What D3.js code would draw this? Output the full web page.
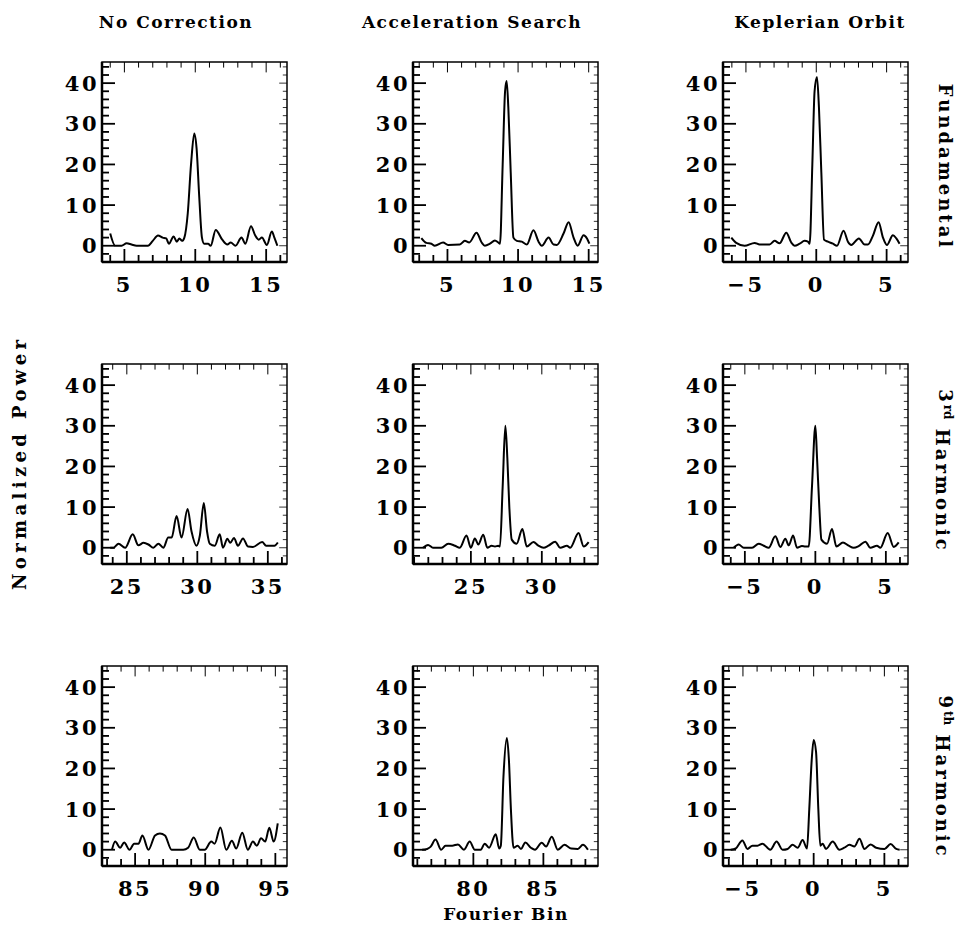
<!DOCTYPE html>
<html>
<head>
<meta charset="utf-8">
<script src="https://cdn.jsdelivr.net/npm/d3@7"></script>
<style>
  body { margin: 0; background: #fff; }
  text { font-family: "DejaVu Serif", serif; font-weight: bold; fill: #000; }
</style>
</head>
<body>
<div id="chart"></div>
<script>
// column titles and row labels
const colTitles = ["No Correction", "Acceleration Search", "Keplerian Orbit"];
const rowNums = ["", "3", "9"];
const rowSups = ["", "rd", "th"];
const rowWords = ["Fundamental", "Harmonic", "Harmonic"];

// x ranges (Fourier bin) of each panel, row by row
const xRanges = [
  [3.42, 16.47], [2.56, 15.66], [-6.63, 6.52],
  [23.24, 36.36], [20.92, 33.96], [-6.55, 6.57],
  [82.64, 95.83], [75.69, 88.9], [-6.41, 6.67]
];
const yRange = [-4, 45.2];
const yTickValues = [0, 10, 20, 30, 40];

// power spectra, [bin, power]
const fundNoCorr = [[4.0,3.0],[4.35,0],[4.8,0],[5.16,0.6],[5.5,0.3],[5.86,0],[6.67,0],[7.0,1.2],[7.37,2.5],[7.7,2.0],[7.95,1.8],[8.14,0.5],[8.47,2.3],[8.7,1.0],[8.88,1.8],[9.07,1.2],[9.23,2.0],[9.47,8],[9.7,20],[9.93,27.6],[10.09,24],[10.28,12],[10.47,2],[10.63,0.5],[10.9,0.5],[11.09,0],[11.44,3.9],[11.9,1.5],[12.26,0.3],[12.5,0.8],[12.84,0],[13.26,2.0],[13.53,0.5],[13.93,4.8],[14.23,2.5],[14.47,1.5],[14.7,2.0],[15.05,0.2],[15.4,3.5],[15.58,2.0],[15.79,0]];
const fundAccel = [[3.15,1.9],[3.51,0.7],[3.86,0.5],[4.1,0],[4.69,0.8],[5.05,0.2],[5.88,0.3],[6.23,1.2],[6.54,0.8],[7.06,3.2],[7.42,0.8],[7.65,0],[8.01,0.5],[8.36,1.3],[8.6,0.8],[8.72,0.5],[8.91,20],[9.08,38],[9.19,40.5],[9.31,34],[9.48,18],[9.67,2],[9.91,1.2],[10.26,1.0],[10.62,0.3],[11.09,3.8],[11.45,1.0],[11.68,0],[12.16,2.0],[12.51,0.3],[12.75,0.2],[13.22,3.0],[13.58,5.8],[13.93,2.0],[14.22,0],[14.64,2.6],[14.88,1.8],[15.05,0.5]];
const fundKepler = [[-6.04,2.0],[-5.69,0.7],[-5.1,0],[-4.38,0.7],[-4.03,0.3],[-3.32,0.3],[-2.96,1.2],[-2.61,0.6],[-2.13,3.2],[-1.78,0.8],[-1.54,0],[-1.18,0.5],[-0.83,1.2],[-0.59,1.0],[-0.47,0.5],[-0.28,20],[-0.12,38],[0.05,41.5],[0.19,34],[0.36,18],[0.55,1.5],[0.83,1.0],[1.18,0.5],[1.47,0],[1.94,3.7],[2.25,1.0],[2.49,0.2],[3.03,1.8],[3.44,0.3],[3.67,0.3],[4.03,2.5],[4.43,5.8],[4.74,2.0],[5.02,0.2],[5.45,2.6],[5.69,1.8],[5.92,0.5]];

const h3NoCorr = [[23.82,0],[24.06,0],[24.41,1.0],[24.88,0],[25.42,3.3],[25.82,0.6],[26.18,1.2],[26.53,0.8],[26.88,0],[27.24,1.0],[27.59,0],[27.94,2.5],[28.18,2.5],[28.53,7.8],[28.88,2.5],[29.31,9.5],[29.59,4],[29.94,0.5],[30.18,3],[30.46,11],[30.69,4],[30.88,1.0],[31.24,0.5],[31.59,3.3],[31.82,0],[32.13,2.2],[32.34,1.2],[32.6,2.4],[32.88,0.5],[33.24,2.3],[33.59,0.3],[33.94,0.2],[34.6,1.4],[34.88,0.5],[35.47,0.5],[35.71,1.3]];
const h3Accel = [[21.63,0],[21.98,0.7],[22.33,0],[22.92,0],[23.4,1.0],[23.87,0.5],[24.22,0],[24.69,3.0],[25.0,0],[25.28,2.3],[25.52,0.8],[25.87,3.2],[26.16,0],[26.46,0.5],[26.7,0.3],[26.93,0.5],[27.05,0.3],[27.24,15],[27.43,30],[27.57,22],[27.71,10],[27.88,2],[28.23,1.0],[28.63,4.6],[28.94,0.3],[29.41,1.4],[29.76,0.5],[30.12,0],[30.47,0.5],[30.94,1.5],[31.3,0],[31.77,0.5],[32.0,0],[32.59,3.6],[32.95,0.3],[33.3,1.4]];
const h3Kepler = [[-5.79,0],[-5.44,0.8],[-5.08,0],[-4.49,0],[-4.02,1.0],[-3.66,0.5],[-3.31,0],[-2.84,2.8],[-2.48,0.2],[-2.13,2.2],[-1.89,0.6],[-1.58,3.0],[-1.3,0],[-0.95,0.4],[-0.71,0.3],[-0.47,0.3],[-0.24,15],[0,30],[0.12,22],[0.28,10],[0.43,2],[0.83,1.0],[1.18,4.6],[1.49,0.3],[1.96,1.3],[2.36,0.5],[2.72,0],[3.07,0.4],[3.55,1.5],[3.9,0],[4.37,0.5],[4.61,0],[5.13,3.6],[5.56,0.2],[5.91,1.3]];

const h9NoCorr = [[83.35,0],[83.58,2.0],[83.94,0.5],[84.22,1.8],[84.6,0],[84.93,1.5],[85.24,1.5],[85.52,3.5],[85.95,0],[86.42,3.5],[86.77,4.0],[87.13,3.5],[87.6,0],[88.43,0],[88.78,0.5],[89.18,3.0],[89.61,0],[89.96,0],[90.43,2.0],[90.67,1.5],[91.08,5.5],[91.5,0],[91.9,2.2],[92.21,0.3],[92.64,4.2],[93.04,0],[93.4,2.0],[93.68,1.0],[93.98,2.8],[94.27,2.0],[94.57,5.4],[94.88,2.0],[95.17,6.5]];
const h9Accel = [[76.34,0],[76.7,0.2],[76.94,0.7],[77.3,2.5],[77.7,0],[78.01,1.0],[78.49,1.0],[78.9,1.3],[79.33,0],[79.74,2.0],[80.1,0],[80.53,0],[80.81,1.5],[81.12,0.5],[81.6,3.8],[81.84,0.3],[81.96,1.0],[82.15,18],[82.39,27.5],[82.54,22],[82.68,10],[82.87,0.5],[83.16,1.0],[83.4,0.2],[83.71,1.8],[84.11,0.5],[84.4,0],[84.88,1.7],[85.19,0.8],[85.6,3.2],[86.03,0],[86.51,1.2],[86.99,0.3],[87.46,0.2],[87.82,1.2],[88.18,0]];
const h9Kepler = [[-5.86,0],[-5.51,0.3],[-5.04,2.3],[-4.68,0.2],[-4.33,1.0],[-3.97,1.0],[-3.62,1.5],[-3.07,0],[-2.62,2.0],[-2.2,0],[-1.84,0.2],[-1.49,1.2],[-1.13,0.5],[-0.78,2.4],[-0.47,0.3],[-0.31,10],[-0.14,22],[0,27],[0.17,24],[0.33,10],[0.47,1.0],[0.64,1.5],[0.87,0.2],[1.35,2.0],[1.82,0],[2.17,0.5],[2.53,1.2],[2.88,0.8],[3.24,2.7],[3.59,0.2],[4.02,1.3],[4.42,0.5],[5.01,0.2],[5.44,1.4],[5.84,0.2],[6.08,0]];

const spectra = [fundNoCorr, fundAccel, fundKepler, h3NoCorr, h3Accel, h3Kepler, h9NoCorr, h9Accel, h9Kepler];

const width = 957, height = 929;
const colLeft = [102, 413, 723];
const rowTop = [62, 364, 666];
const pw = 185, ph = 200;

const svg = d3.select("#chart").append("svg")
    .attr("width", width)
    .attr("height", height);

spectra.forEach(function(data, i) {
    const r = Math.floor(i / 3), c = i % 3;
    const g = svg.append("g")
        .attr("transform", "translate(" + colLeft[c] + "," + rowTop[r] + ")");

    const x = d3.scaleLinear().domain(xRanges[i]).range([0, pw]);
    const y = d3.scaleLinear().domain(yRange).range([ph, 0]);

    const dom = xRanges[i];
    const xMinor = d3.range(Math.ceil(dom[0]), Math.floor(dom[1]) + 1);
    const xMajor = xMinor.filter(function(v) { return v % 5 === 0; });
    const yMinor = d3.range(-4, 45, 2);

    // ticks on all four sides, pointing inward
    function tick(x1, y1, x2, y2, w) {
        g.append("line").attr("x1", x1).attr("y1", y1).attr("x2", x2).attr("y2", y2)
            .attr("stroke", "#000").attr("stroke-width", w);
    }
    xMinor.forEach(function(v) {
        const len = v % 5 === 0 ? 13 : 7;
        tick(x(v), ph, x(v), ph - len, 1.8);
        tick(x(v), 0, x(v), len * 0.8, 1);
    });
    yMinor.forEach(function(v) {
        const len = v % 10 === 0 ? 13 : 7;
        tick(0, y(v), len, y(v), 1.8);
        tick(pw, y(v), pw - len * 0.6, y(v), 0.8);
    });

    // frame
    g.append("rect").attr("width", pw).attr("height", ph)
        .attr("fill", "none").attr("stroke", "#000").attr("stroke-width", 1.5);
    tick(0, 0, 0, ph, 2.5);
    tick(0, ph, pw, ph, 2.5);

    // tick labels
    g.selectAll(".xl").data(xMajor).enter().append("text")
        .attr("x", function(d) { return x(d); })
        .attr("y", ph + 30)
        .attr("text-anchor", "middle")
        .style("font-size", "21px")
        .style("letter-spacing", "2.5px")
        .text(function(d) { return d < 0 ? "\u2212" + Math.abs(d) : d; });

    g.selectAll(".yl").data(yTickValues).enter().append("text")
        .attr("x", -3)
        .attr("y", function(d) { return y(d); })
        .attr("dy", "0.36em")
        .attr("text-anchor", "end")
        .style("font-size", "21px")
        .style("letter-spacing", "2.5px")
        .text(function(d) { return d; });

    // spectrum
    const line = d3.line()
        .x(function(d) { return x(d[0]); })
        .y(function(d) { return y(d[1]); })
        .curve(d3.curveMonotoneX);
    g.append("path").datum(data)
        .attr("d", line)
        .attr("fill", "none")
        .attr("stroke", "#000")
        .attr("stroke-width", 2);
});

// column titles
const titleX = [176, 472, 820];
colTitles.forEach(function(t, c) {
    svg.append("text")
        .attr("x", titleX[c]).attr("y", 28)
        .attr("text-anchor", "middle")
        .style("font-size", "17px")
        .style("letter-spacing", "1.5px")
        .text(t);
});

// row labels on the right, reading downward
const rowY = [167, 471, 777];
rowWords.forEach(function(w, r) {
    const t = svg.append("text")
        .attr("transform", "translate(939," + rowY[r] + ") rotate(90)")
        .attr("text-anchor", "middle")
        .style("font-size", "18px")
        .style("letter-spacing", "3px");
    if (rowNums[r]) {
        t.append("tspan").text(rowNums[r]);
        t.append("tspan").attr("dy", "-0.45em").style("font-size", "12px").style("letter-spacing", "0px").text(rowSups[r]);
        t.append("tspan").attr("dy", "0.45em").text(" " + w);
    } else {
        t.text(w);
    }
});

// axis titles
svg.append("text")
    .attr("transform", "translate(26,465) rotate(-90)")
    .attr("text-anchor", "middle")
    .attr("textLength", 250)
    .attr("lengthAdjust", "spacing")
    .style("font-size", "18px")
    .text("Normalized Power");

svg.append("text")
    .attr("x", 506).attr("y", 920)
    .attr("text-anchor", "middle")
    .style("font-size", "17px")
    .style("letter-spacing", "1.5px")
    .text("Fourier Bin");
</script>
</body>
</html>
